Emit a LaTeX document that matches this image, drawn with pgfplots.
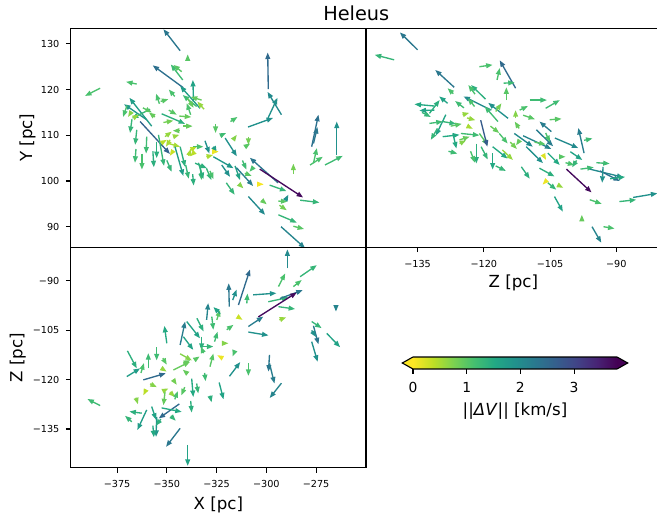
\documentclass[border=0pt]{standalone}
\usepackage{pgfplots}
\usepackage{pgfplotstable}
\pgfplotsset{compat=1.18}
\usepgfplotslibrary{patchplots}
\usetikzlibrary{arrows.meta}
\usepackage{fontspec}
\setmainfont{DejaVu Sans}

\definecolor{vlow}{RGB}{253,231,37}
\definecolor{vhigh}{RGB}{68,1,84}

\pgfplotsset{
  colormap={rviridis}{rgb255=(253,231,37) rgb255=(189,223,38) rgb255=(122,209,81) rgb255=(68,191,112) rgb255=(34,168,132) rgb255=(33,145,140) rgb255=(42,120,142) rgb255=(53,95,141) rgb255=(65,68,135) rgb255=(72,36,117) rgb255=(68,1,84)},
  panel/.style={scale only axis, anchor=south west, width=295.3bp,
    colormap name=rviridis, point meta min=0, point meta max=3.8,
    tick align=outside, major tick length=4.86bp,
    every tick/.style={black, line width=1.1bp},
    axis line style={line width=1.1bp},
    tick label style={font=\fontsize{9.7}{11}\selectfont},
    xticklabel style={yshift=-4.5bp},
    yticklabel style={xshift=-3bp},
    label style={font=\fontsize{16.7}{19}\selectfont},
    /pgf/number format/assume math mode=true},
  qv/.style={quiver={u=\thisrow{u}, v=\thisrow{v}, colored=mapped color},
    point meta=\thisrow{c}, line width=1.35bp,
    -{Triangle[length=6.5bp,width=4.8bp]}},
}

% TL: X vs Y
\pgfplotstableread{
x y u v c
-343.3 128.5 -8.4 4.7 2.3
-339.5 126.5 0 1.2 1.0
-341.7 120.4 -15.4 4.9 2.4
-342.0 122.1 -6.0 3.4 1.2
-342.5 123.9 -4.2 1.5 1.0
-383.5 120.3 -7.6 -1.7 1.1
-365.1 121.2 -5.4 0.5 1.1
-336.6 117.7 -0.3 4.4 1.6
-333.3 115.9 -10.0 4.9 1.7
-335.0 116.3 -7.0 2.5 1.2
-332.5 117.7 -5.5 0.7 0.9
-331.3 115.7 -3.4 1.7 0.6
-353.7 116.9 -1.7 2.2 1.1
-353.1 117.4 3.9 0.5 1.0
-360.1 113.4 -11.4 3.4 1.8
-357.6 112.0 -11.2 6.2 1.7
-363.4 113.0 15.0 -7.1 2.6
-358.4 115.7 -9.2 -2.0 1.3
-352.6 114.7 11.8 -2.2 1.4
-343.7 114.2 6.0 -0.2 0.9
-351.7 112.8 5.0 0.4 0.8
-341.7 112.0 4.7 0 0.9
-365.1 111.2 -0.8 -3.3 1.3
-360.1 109.7 -0.3 -3.7 1.2
-354.2 110.1 2.8 -6.8 1.3
-355.1 108.6 0 -3.6 1.4
-350.9 109.7 3.4 1.1 0.6
-349.2 108.2 5.9 -0.7 0.5
-346.7 109.7 3.0 0.4 0.6
-348.4 109.0 -2.0 -1.5 0.5
-345.9 107.5 4.2 -6.4 1.7
-343.3 107.5 2.5 -4.4 1.4
-338.3 106.8 3.4 0.7 0.4
-336.6 106.1 -1.7 -0.7 0.4
-336.6 107.5 5.0 0 1.1
-330.8 108.8 2.2 -2.8 1.9
-326.6 107.5 1.7 -1.3 1.7
-323.2 109.9 3.0 0.6 1.2
-316.5 109.1 1.7 1.0 0.7
-320.7 109.4 5.9 -4.0 1.9
-309.0 109.7 0 -1.8 0.8
-310.6 107.5 2.5 0.7 1.0
-330.1 105.3 3.4 0.4 0.5
-324.1 106.4 0.1 0 0.1
-326.6 105.3 10.1 -2.5 1.8
-335.8 103.9 5.9 -1.1 1.4
-333.3 103.5 0.8 -3.3 1.2
-330.1 102.8 2.5 -2.6 1.3
-322.4 103.5 4.2 -2.6 1.9
-315.7 103.3 2.5 -3.1 1.6
-315.0 102.9 8.4 -4.0 2.2
-310.8 101.7 3.5 -0.6 1.0
-320.1 99.6 4.2 -2.6 1.3
-313.2 99.1 1.7 -0.7 0.7
-309.0 96.6 8.4 -4.0 2.0
-294.1 99.6 -14.2 5.5 2.3
-298.3 99.1 8.4 -1.3 1.3
-301.5 99.3 0.2 0 0.05
-283.0 95.8 9.7 -0.5 1.3
-293.9 92.6 9.2 -1.7 1.3
-286.4 90.1 5.4 -0.6 1.0
-292.6 90.0 12.1 -4.7 2.1
-302.3 95.8 2.5 -0.9 0.9
-293.9 95.6 4.5 -0.1 1.0
-293.4 94.7 3.7 -1.1 0.8
-299.0 120.1 -0.3 8.0 2.5
-292.4 114.5 -7.0 5.0 2.0
-299.1 113.8 4.7 4.4 1.9
-309.2 111.8 12.6 2.0 1.9
-277.2 107.5 3.4 7.0 2.4
-276.3 108.2 2.0 3.6 2.3
-264.6 105.7 0 7.3 1.9
-270.5 103.5 8.9 2.0 1.2
-278.0 103.5 6.4 1.8 1.1
-276.3 103.9 1.7 3.3 1.1
-286.4 101.5 0 2.3 0.8
-289.4 96.6 0.5 0.4 1.9
-334.1 104.0 2.5 -3.6 1.4
-328.3 102.2 1.7 -1.8 1.1
-352.0 108.5 2.0 0.5 0.4
-347.0 106.5 -1.5 -1.0 0.3
-339.0 105.5 1.0 1.5 0.5
-368.0 115.0 -1.5 -1.0 0.7
-366.0 114.0 2.0 0.5 0.6
-370.0 116.5 -2.0 -2.5 1.1
-367.5 113.5 -1.0 -3.0 1.3
-362.0 116.0 4.5 -1.0 1.0
-356.0 114.0 -3.0 1.0 0.9
-349.0 115.5 4.0 -1.0 1.0
-346.0 118.5 -3.0 1.5 1.1
-339.5 118.0 3.0 -2.0 0.9
-338.0 114.5 -2.0 2.5 1.1
-344.0 111.0 -3.0 0 0.9
-357.0 106.5 0.5 -3.5 1.4
-350.0 104.5 2.5 -2.5 1.3
-340.5 103.5 1.5 -3.0 1.3
-337.0 101.5 0.5 -2.5 1.4
-325.5 112.5 0 -2.0 1.0
-318.0 113.0 3.5 1.0 1.1
-312.0 104.5 2.0 -2.0 1.2
-306.5 103.0 -2.0 -1.0 1.1
-365.5 107.0 -0.5 -3.0 1.2
-362.5 106.0 0 -3.5 1.1
-303.3 102.6 21.8 -6.2 3.7
}\tabXY

% TR: Z vs Y
\pgfplotstableread{
x y u v c
-135.0 128.7 -4.0 3.8 2.3
-140.3 126.5 -4.4 1.1 1.3
-112.8 120.3 -3.6 6.1 2.5
-121.0 125.0 3.0 0.4 1.1
-117.0 122.1 0.6 2.6 1.1
-115.5 121.4 2.5 0.1 1.2
-114.9 117.7 0 2.8 1.0
-126.7 120.5 -4.3 3.8 2.3
-126.9 119.1 -1.3 1.2 1.1
-119.6 117.9 -3.3 3.1 1.4
-118.3 115.5 -6.3 3.0 2.0
-122.1 116.3 -1.5 1.8 1.1
-114.5 113.7 -4.5 3.4 1.9
-116.8 113.0 -3.0 3.3 1.2
-117.3 115.2 1.3 1.8 0.8
-112.8 113.7 0 1.8 0.7
-111.9 115.5 1.9 0.9 1.1
-109.6 117.7 3.9 0 1.2
-106.0 115.9 3.2 1.8 1.2
-111.1 114.4 2.7 -0.9 1.0
-105.1 113.4 2.7 0.2 1.0
-104.7 110.8 -2.7 2.2 2.2
-131.2 116.4 -4.5 0.4 1.5
-131.2 115.5 -3.4 -0.1 1.6
-132.3 114.8 2.3 2.9 1.4
-128.2 117.0 -1.9 1.5 1.6
-128.6 114.5 -2.3 -4.6 1.6
-132.3 112.6 3.0 0.4 1.2
-129.3 113.0 3.0 -0.5 1.3
-129.3 109.7 3.8 0.4 1.5
-127.0 110.4 0.8 -3.3 1.5
-125.2 110.4 4.2 -0.4 1.2
-124.8 114.5 1.5 0.4 0.6
-123.8 113.8 1.9 -0.5 0.6
-123.3 111.8 0.8 -0.4 0.5
-125.5 108.2 1.5 0.7 0.7
-125.5 109.0 2.3 0.7 0.9
-121.0 110.4 1.9 -2.6 1.0
-120.7 113.3 1.5 -5.8 2.7
-121.7 108.2 0 -4.4 1.4
-120.6 107.5 1.5 -2.8 1.3
-118.0 107.5 3.4 -2.6 1.5
-118.0 106.1 0 -3.6 1.5
-117.3 103.3 2.3 -1.1 1.3
-115.8 106.8 2.4 -2.2 0.6
-116.5 110.4 1.9 -2.2 1.1
-113.1 110.4 4.2 -2.9 2.0
-111.9 108.9 -0.8 -1.1 0.9
-110.4 107.5 3.8 -3.6 1.9
-111.5 103.1 1.9 -2.6 1.4
-108.1 111.2 3.8 -3.6 2.2
-107.4 102.8 3.4 -1.8 1.4
-106.3 105.3 0.4 -0.7 0.2
-105.5 106.1 2.7 -2.6 1.5
-103.9 109.4 5.3 -2.2 2.0
-103.0 105.3 1.5 0 1.0
-100.4 106.4 2.7 -1.8 1.6
-97.3 106.1 -1.3 5.5 2.2
-97.3 108.9 1.9 0.4 1.2
-98.1 102.6 3.0 0.4 1.2
-96.0 102.6 7.6 -1.8 2.0
-93.7 102.2 4.5 -2.2 2.4
-93.0 103.1 -0.2 -3.5 1.9
-91.4 100.5 3.4 0.4 1.5
-106.3 99.6 -0.4 -0.4 0.1
-105.5 99.6 1.9 -1.5 1.3
-102.8 98.9 0.8 -0.4 0.6
-104.0 96.6 1.9 -3.3 1.6
-96.0 95.9 2.7 -0.9 1.1
-97.8 91.5 0 1.1 0.9
-95.5 90.0 2.1 -3.5 2.1
-92.9 90.0 2.5 -0.4 1.1
-89.3 95.5 3.8 0.4 1.3
-86.2 96.4 5.5 0.9 1.9
-111.1 109.9 6.4 -2.9 2.1
-134.0 115.0 2.0 -1.0 1.3
-130.5 111.5 -1.5 -2.5 1.3
-127.5 112.0 2.5 0.5 1.0
-124.5 116.0 -2.0 1.5 1.2
-122.0 119.0 -1.5 2.0 1.1
-118.5 112.0 2.0 -1.5 0.9
-114.0 108.5 1.5 -1.5 0.8
-112.0 111.5 -1.0 1.5 0.9
-108.5 108.5 2.5 -0.5 1.0
-106.0 110.5 1.0 -2.0 1.1
-101.5 104.0 2.0 -0.5 1.1
-99.0 104.5 -1.0 -1.5 1.3
-94.5 104.0 3.0 -0.2 1.2
-123.0 106.5 1.0 -2.5 1.1
-128.0 106.5 2.0 -0.5 1.2
-101.3 102.6 5.7 -5.1 3.7
}\tabZY

% BL: X vs Z
\pgfplotstableread{
x y u v c
-383.5 -127.9 -6.4 2.0 1.2
-367.6 -132.8 -3.4 1.8 1.3
-362.6 -130.2 -6.2 0.5 1.4
-360.1 -129.2 -4.7 -6.1 1.7
-357.6 -128.2 2.2 -4.0 1.6
-355.1 -131.3 -0.3 -6.1 1.8
-343.3 -134.8 -7.1 -5.6 2.3
-339.5 -139.8 0 -6.4 1.6
-343.7 -127.4 -10.4 -4.4 2.5
-352.6 -128.6 10.1 -1.2 1.5
-361.8 -120.1 11.3 2.0 2.5
-370.1 -119.1 6.7 2.5 1.7
-369.8 -111.3 4.7 -5.3 1.4
-359.3 -116.6 0 4.6 1.2
-350.0 -109.0 -1.2 5.3 1.5
-355.1 -110.2 0 -4.0 1.2
-352.6 -116.6 2.5 -1.0 0.6
-346.7 -117.1 8.4 2.5 0.9
-343.3 -112.2 5.9 -2.0 0.7
-341.7 -107.0 5.0 -4.0 1.6
-343.3 -109.5 2.5 7.1 2.2
-340.0 -102.4 6.7 -5.1 1.6
-334.9 -101.4 3.4 -4.0 1.4
-333.3 -110.0 6.7 0 1.3
-332.5 -107.0 0 -4.0 1.4
-330.0 -101.9 0.8 5.1 2.1
-327.4 -100.9 0.8 -4.0 1.2
-324.9 -101.9 1.7 3.0 1.0
-318.6 -97.9 -0.3 7.1 2.3
-316.9 -95.9 2.0 3.2 1.9
-314.0 -97.4 5.8 10.8 2.5
-309.8 -96.9 0.3 3.0 1.2
-323.2 -100.0 -3.4 2.0 1.6
-319.9 -104.9 3.4 1.5 1.1
-313.2 -101.4 1.3 -0.5 0.3
-328.3 -116.1 1.7 4.0 1.0
-323.2 -113.1 -1.5 0.5 0.1
-323.7 -120.9 2.2 -5.1 1.6
-328.3 -124.9 0.8 -2.0 1.4
-318.5 -119.0 5.4 4.3 1.9
-309.0 -115.1 0 -3.8 1.1
-309.0 -105.6 10.1 -1.0 1.9
-309.0 -103.9 7.5 3.0 2.2
-306.6 -94.3 11.7 0.5 1.9
-299.0 -96.4 10.1 1.3 1.3
-293.1 -95.4 11.4 2.5 2.3
-293.9 -97.9 8.4 -0.7 1.3
-293.4 -101.9 3.4 0.8 0.6
-289.4 -86.3 0 5.8 2.0
-293.9 -91.8 3.4 4.0 1.1
-283.0 -88.8 8.4 3.5 1.3
-286.4 -91.8 4.2 2.0 1.1
-265.0 -97.4 0 -2.0 2.1
-277.2 -102.4 5.0 -2.0 1.3
-276.3 -103.7 2.5 -5.6 2.3
-277.2 -105.1 2.2 -2.0 1.9
-277.2 -108.5 3.0 -6.1 1.9
-269.6 -106.0 6.7 -4.2 1.6
-298.4 -112.5 -0.5 -5.1 2.3
-298.4 -115.1 2.5 -6.1 2.2
-292.4 -121.1 -5.9 -4.5 2.1
-358.4 -121.3 3.4 -1.0 0.7
-350.9 -123.2 1.7 0.5 0.6
-337.5 -119.7 0.8 -5.6 1.5
-335.0 -121.2 0.8 -3.0 1.3
-341.0 -122.3 -1.7 -2.5 1.0
-346.7 -120.1 1.7 -1.5 0.8
-361.0 -123.8 -0.8 -1.0 0.4
-348.4 -123.8 2.5 -1.5 0.6
-350.9 -123.8 -0.8 -4.0 0.9
-341.7 -115.1 3.4 1.0 0.9
-365.5 -125.5 1.0 -2.0 0.7
-363.0 -118.0 1.5 3.0 1.1
-357.0 -134.0 0.5 -3.5 1.5
-353.0 -132.0 -2.5 -2.0 1.4
-348.0 -131.0 2.5 -1.5 1.3
-346.0 -126.0 1.5 2.5 1.1
-338.0 -126.5 0.5 -3.5 1.4
-336.0 -114.0 2.5 1.0 1.0
-331.5 -112.0 -1.5 2.0 1.1
-326.0 -108.5 1.5 3.0 1.2
-321.0 -109.0 2.0 0 0.7
-316.0 -111.5 -1.0 -1.5 1.1
-331.0 -118.0 0.5 -2.5 1.2
-352.0 -113.5 2.0 -2.0 1.0
-340.0 -118.0 -2.0 1.0 0.9
-304.0 -101.0 19.3 7.4 3.7
}\tabXZ

\begin{document}
\begin{tikzpicture}
% top-left
\begin{axis}[panel, at={(70.7bp,271.7bp)}, height=219bp,
  xmin=-398.3, xmax=-249.9, ymin=85.5, ymax=133.4,
  xtick=\empty, ytick={90,100,110,120,130}, ytick pos=left,
  ylabel={Y [pc]}, ylabel shift=-1.5bp]
\addplot[qv] table {\tabXY};
\end{axis}
% top-right
\begin{axis}[panel, at={(365.7bp,271.7bp)}, height=219bp,
  xmin=-146.74, xmax=-79.88, ymin=85.5, ymax=133.4,
  ytick=\empty, xtick={-135,-120,-105,-90}, xticklabels={−135,−120,−105,−90},
  xtick pos=bottom, xlabel={Z [pc]}, xlabel shift=1bp]
\addplot[qv] table {\tabZY};
\end{axis}
% bottom-left
\begin{axis}[panel, at={(70.7bp,51.3bp)}, height=220.4bp,
  xmin=-398.3, xmax=-249.9, ymin=-146.74, ymax=-79.88,
  xtick={-375,-350,-325,-300,-275}, xticklabels={−375,−350,−325,−300,−275},
  ytick={-135,-120,-105,-90}, yticklabels={−135,−120,−105,−90},
  xtick pos=bottom, ytick pos=left,
  xlabel={X [pc]}, ylabel={Z [pc]}, xlabel shift=2.5bp]
\addplot[qv] table {\tabXZ};
\end{axis}
% colorbar
\begin{axis}[scale only axis, anchor=south west, at={(413bp,150bp)},
  width=204bp, height=12bp, xmin=0, xmax=3.8, ymin=0, ymax=1,
  colormap name=rviridis, point meta min=0, point meta max=3.8,
  axis line style={draw=none}, ytick=\empty, xtick={0,1,2,3}, xtick pos=bottom,
  tick align=outside, major tick length=4.86bp,
  every tick/.style={black, line width=1.1bp},
  tick label style={font=\fontsize{13.9}{16}\selectfont},
  xticklabel style={yshift=-5bp},
  label style={font=\fontsize{16.7}{19}\selectfont},
  xlabel shift=3bp,
  /pgf/number format/assume math mode=true, clip=false,
  xlabel={||\textit{ΔV}|| [km/s]}]
\addplot[patch, patch type=rectangle, shader=interp, point meta=x] coordinates {(0,0) (3.8,0) (3.8,1) (0,1)};
\fill[vlow] (axis cs:0,0) -- (axis cs:-0.2,0.5) -- (axis cs:0,1) -- cycle;
\fill[vhigh] (axis cs:3.8,0) -- (axis cs:4.0,0.5) -- (axis cs:3.8,1) -- cycle;
\draw[line width=1.1bp] (axis cs:0,0) -- (axis cs:-0.2,0.5) -- (axis cs:0,1) -- (axis cs:3.8,1) -- (axis cs:4.0,0.5) -- (axis cs:3.8,0) -- cycle;
\end{axis}
\node[anchor=base, font=\fontsize{19.4}{23}\selectfont] at (356.3bp,498.3bp) {Heleus};
\pgfresetboundingbox
\path (0,0) rectangle (657bp,519bp);
\end{tikzpicture}
\end{document}
